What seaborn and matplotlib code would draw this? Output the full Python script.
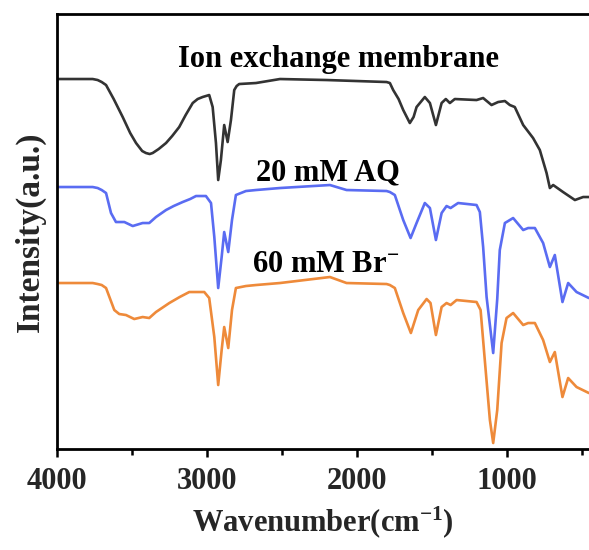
import matplotlib
matplotlib.use("Agg")
import matplotlib.pyplot as plt
from matplotlib.ticker import MultipleLocator
import seaborn as sns
import pandas as pd

# ---- data (wavenumber in cm^-1, intensity in arbitrary offset units) ----
wn_membrane = [4000, 3760, 3727, 3700, 3671, 3620, 3560, 3510, 3471, 3430, 3405, 3380, 3360,
               3320, 3271, 3230, 3183, 3140, 3093, 3060, 3027, 2983, 2960,
               2938, 2923, 2905, 2883, 2860, 2838, 2816, 2800, 2783, 2671, 2511, 2200, 1800,
               1778, 1756, 1720,
               1689, 1645, 1620, 1600, 1545, 1511, 1471, 1433, 1405, 1378, 1345, 1200, 1156,
               1100, 1056, 1011, 978, 945, 889, 823, 778, 733, 711, 689, 623, 544, 489, 451]
int_membrane = [370, 370, 369, 367, 364, 350, 332, 316, 306, 298, 296, 295, 296,
                300, 306, 313, 322, 334, 346, 350, 352, 354, 342,
                306, 269, 289, 324, 307, 329, 359, 363, 365, 366, 370, 369, 367,
                366, 359, 350,
                339, 326, 332, 342, 352, 346, 324, 346, 350, 346, 350, 349, 351,
                344, 347, 348, 344, 342, 324, 311, 299, 276, 261, 264, 257, 249, 252, 252]

wn_aq = [4000, 3760, 3727, 3700, 3671, 3638, 3605, 3549, 3493, 3427, 3383, 3338, 3271, 3220,
         3160, 3110, 3071, 3005,
         2971, 2949, 2923, 2900, 2883, 2856, 2831, 2805, 2738, 2671, 2511, 2178, 2067, 1800,
         1778, 1745, 1689, 1640, 1600, 1545, 1511, 1471, 1433, 1400, 1373, 1323, 1200, 1178,
         1156, 1133, 1089, 1062, 1045, 1011, 956, 889, 856, 811, 756, 711, 678, 627, 589,
         533, 451]
int_aq = [262, 262, 261, 259, 256, 236, 227, 227, 223, 226, 226, 232, 239, 243,
          247, 250, 253, 253,
          246, 212, 161, 192, 217, 197, 229, 254, 258, 259, 261, 264, 259, 258,
          257, 254, 229, 211, 226, 246, 241, 209, 236, 243, 241, 246, 244, 237,
          202, 152, 96, 150, 199, 226, 231, 219, 221, 221, 206, 182, 194, 147, 166,
          157, 151]

wn_br = [4000, 3760, 3727, 3700, 3671, 3616, 3583, 3538, 3483, 3427, 3383, 3338, 3249, 3180,
         3116, 3016, 2983,
         2949, 2923, 2900, 2883, 2856, 2831, 2805, 2738, 2671, 2511, 2178, 2067, 1800, 1778,
         1745, 1689, 1638, 1589, 1533, 1507, 1471, 1433, 1400, 1373, 1333, 1200, 1173, 1145,
         1111, 1089, 1062, 1033, 1000, 956, 889, 856, 811, 756, 711, 678, 627, 589, 533, 451]
int_br = [166, 166, 165, 164, 161, 139, 135, 134, 130, 132, 131, 137, 146, 152,
          157, 157, 151,
          112, 64, 99, 122, 101, 139, 161, 163, 164, 166, 172, 166, 165, 164,
          161, 136, 116, 139, 150, 146, 114, 142, 146, 144, 149, 147, 139, 89,
          29, 6, 39, 106, 131, 136, 124, 126, 126, 109, 87, 97, 52, 71, 62, 56]

series_names = ["Ion exchange membrane", "20 mM AQ", "60 mM Br$^{-}$"]
series_colors = ["#333333", "#5A6CF2", "#EE8A3A"]
x_ticks = [4000, 3000, 2000, 1000]

frames = []
for name, wn, it in zip(series_names, [wn_membrane, wn_aq, wn_br],
                        [int_membrane, int_aq, int_br]):
    frames.append(pd.DataFrame({"wn": wn, "intensity": it, "sample": name}))
df = pd.concat(frames, ignore_index=True)

sns.set_theme(style="white")
plt.rcParams["font.family"] = ["Liberation Serif", "DejaVu Serif"]
plt.rcParams["font.weight"] = "bold"
plt.rcParams["mathtext.fontset"] = "custom"
plt.rcParams["mathtext.rm"] = "Liberation Serif:bold"
plt.rcParams["mathtext.it"] = "Liberation Serif:bold"
plt.rcParams["mathtext.bf"] = "Liberation Serif:bold"
plt.rcParams["mathtext.default"] = "rm"

fig = plt.figure(figsize=(5.89, 5.5), dpi=100)
ax = fig.add_axes([0.0963, 0.1836, 0.9037, 0.7909])

sns.lineplot(data=df, x="wn", y="intensity", hue="sample", palette=series_colors,
             hue_order=series_names, estimator=None, linewidth=1.9, legend=False, ax=ax)
for line in ax.get_lines():
    line.set_solid_joinstyle("round")
    line.set_solid_capstyle("round")

ax.set_xlim(4000, 450)
ax.set_ylim(0, 435)
ax.set_xticks(x_ticks)
ax.xaxis.set_minor_locator(MultipleLocator(500))
ax.set_yticks([])
ax.tick_params(axis="x", which="major", direction="out", length=6, width=1.8,
               labelsize=22, pad=7, bottom=True, color="black")
ax.tick_params(axis="x", which="minor", direction="out", length=4, width=1.8,
               bottom=True, color="black")
for lbl in ax.get_xticklabels():
    lbl.set_fontweight("bold")

for side in ["left", "bottom", "top"]:
    ax.spines[side].set_visible(True)
    ax.spines[side].set_color("black")
    ax.spines[side].set_linewidth(2.0)
ax.spines["right"].set_visible(False)

ax.set_xlabel("Wavenumber(cm$^{-1}$)", fontsize=22, fontweight="bold", labelpad=6)
ax.set_ylabel("Intensity(a.u.)", fontsize=24, fontweight="bold", labelpad=8)

label_x = [2118, 2191, 2205]
label_y = [382, 269, 177]
for name, lx, ly in zip(series_names, label_x, label_y):
    ax.text(lx, ly, name, ha="center", va="baseline", fontsize=22, fontweight="bold",
            color="black")

fig.savefig("out.png", dpi=100)
